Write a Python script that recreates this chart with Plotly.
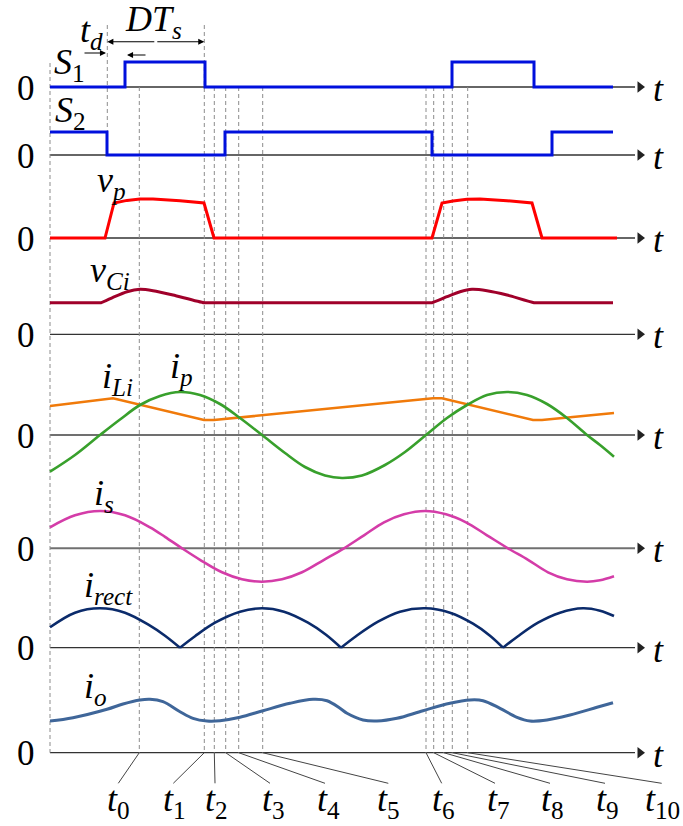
import plotly.graph_objects as go

# ---------------- data (time in drawing units, amplitude in drawing units above each zero line) -------------
# gate signals (step, value held until next switching time)
S1_t = [0, 75, 155, 402, 484, 563]
S1_v = [0, 25, 0, 25, 0, 0]
S2_t = [0, 57, 175, 382, 502, 563]
S2_v = [23, 0, 23, 0, 23, 23]

# primary voltage v_p
vp_t = [0, 55, 64, 77, 90, 103, 130, 154, 164, 382, 392, 403, 417, 430, 457, 482, 492, 567]
vp_v = [0, 0, 35, 37.6, 39, 39, 37.3, 35, 0, 0, 35, 37, 38.7, 39, 37.3, 35, 0, 0]

# clamp capacitor voltage v_Ci
vCi_t = [0, 45, 51, 63, 77, 90, 103, 123, 154, 160, 376, 382, 397, 410, 422, 437, 457, 484, 490, 563]
vCi_v = [31.6, 31.6, 31.6, 37, 42.6, 45, 43.6, 39.3, 31.6, 31.6, 31.6, 31.6, 37.6, 42.6, 45, 43.6, 39.3, 31.6, 31.6, 31.6]

# input inductor current i_Li
iLi_t = [0, 58, 63, 154, 164, 383, 392, 483, 492, 564]
iLi_v = [29, 36.7, 36.7, 15, 15, 36.7, 36.7, 15, 15, 22]

# primary current i_p
ip_t = [0, 25, 50, 70, 90, 110, 130, 150, 170, 190, 212, 235, 255, 275, 292, 312, 335, 355, 376, 397, 417,
        437, 457, 477, 497, 517, 537, 550, 564]
ip_v = [-36.7, -20, 0, 15.5, 30, 39, 43, 40, 31, 17, 0, -18, -32, -40.5, -43, -40.5, -30, -17, 0, 17, 30,
        40, 43, 40, 31, 17, 0, -10, -21.7]

# secondary current i_s
is_t = [0, 25, 50, 75, 100, 115, 132, 150, 172, 192, 212, 232, 252, 274, 294, 314, 334, 354, 375, 396, 416,
        437, 458, 478, 498, 517, 537, 550, 564]
is_v = [21, 33, 37.3, 33, 21, 11.5, 0, -11.5, -24, -31, -33.4, -31, -24, -11.5, 0, 13, 26, 34, 37.3, 34, 26,
        13, 0, -11.5, -24, -31, -33.4, -32, -28]

# rectified current i_rect
irect_t = [0, 25, 50, 75, 100, 115, 130, 145, 165, 190, 212, 234, 258, 276, 291, 306, 328, 350, 375, 400, 423,
           440, 453, 468, 488, 510, 533, 550, 564]
irect_v = [20.4, 35, 39.4, 35, 22, 12, 0, 11.5, 25, 36, 39.4, 36, 25, 13, 0, 11.5, 26, 36, 39.4, 35, 24,
           12, 0, 11.5, 25, 35, 39.4, 37, 31.7]

# output current i_o
io_t = [0, 23, 57, 73, 90, 100, 113, 130, 143, 157, 170, 190, 213, 240, 263, 277, 290, 297, 313, 327, 347, 373,
        400, 420, 433, 450, 467, 480, 497, 520, 547, 563]
io_v = [31.7, 35, 43.4, 48.7, 52.7, 53.4, 51, 41, 34.4, 31.7, 32, 35.4, 42, 49.4, 53.4, 52, 44.4, 39.4, 32.7,
        31.7, 34.4, 42, 49.4, 52.7, 52, 44.4, 35.4, 31.7, 32.7, 37.7, 45.4, 50]

# switching instants t0..t10 and their subscripts
inst_t = [89.3, 154.3, 164.3, 175.7, 188.7, 212.7, 376, 383.7, 393.7, 402.3, 417.7]
inst_sub = ["0", "1", "2", "3", "4", "5", "6", "7", "8", "9", "10"]

# ---------------- layout ----------------
SERIF = "Liberation Serif"
X0 = 50  # pixel position of t = 0
base = {"S1": 87, "S2": 155, "vp": 238, "vCi": 334.3, "ip": 435, "is": 548.3, "irect": 647.7, "io": 752.7}

fig = go.Figure()


def add(t, v, key, color, width, shape="linear", smoothing=1.0):
    y = [base[key] - a for a in v]
    line = dict(color=color, width=width, shape=shape)
    if shape == "spline":
        line["smoothing"] = smoothing
    fig.add_trace(go.Scatter(x=t, y=y, mode="lines", line=line, hoverinfo="skip", showlegend=False))


add(S1_t, S1_v, "S1", "#0010dd", 3, "hv")
add(S2_t, S2_v, "S2", "#0010dd", 3, "hv")
add(vp_t, vp_v, "vp", "#ff0000", 3)
add(vCi_t, vCi_v, "vCi", "#a0002a", 3, "spline", 0.6)
add(iLi_t, iLi_v, "ip", "#f07a0a", 2.6)
add(ip_t, ip_v, "ip", "#38a02c", 2.6, "spline", 1.0)
add(is_t, is_v, "is", "#d43ca8", 2.6, "spline", 1.0)
# rectified current: one smooth arch between consecutive zeros
seg_t, seg_v = [], []
for tt, vv in zip(irect_t, irect_v):
    seg_t.append(tt)
    seg_v.append(vv)
    if vv == 0 and len(seg_t) > 1:
        add(seg_t, seg_v, "irect", "#0b2b6b", 2.6, "spline", 1.0)
        seg_t, seg_v = [tt], [vv]
add(seg_t, seg_v, "irect", "#0b2b6b", 2.6, "spline", 1.0)
add(io_t, io_v, "io", "#3f6699", 3, "spline", 1.0)

shapes = []
# zero lines (time axes)
axis_end = 585
for key in base:
    col = "#707070" if key in ("ip", "is") else "#333333"
    w = 2 if key in ("ip", "is") else 1.3
    shapes.append(dict(type="line", x0=0, x1=axis_end, y0=base[key], y1=base[key],
                       line=dict(color=col, width=w), layer="below"))
fig.add_trace(go.Scatter(x=[590] * len(base), y=list(base.values()), mode="markers",
                         marker=dict(symbol="triangle-right", size=10, color="#222222"),
                         hoverinfo="skip", showlegend=False))

# dashed guide lines
dash_style = dict(color="#8c8c8c", width=1, dash="4px,3px")
guides = [(0, 63, base["io"]), (57.3, 25, base["S2"]), (154.3, 25, base["io"])]
for tt in inst_t:
    if tt != 154.3:
        guides.append((tt, base["S1"], base["io"]))
for tt, ya, yb in guides:
    shapes.append(dict(type="line", x0=tt, x1=tt, y0=ya, y1=yb, line=dash_style, layer="below"))

# leader lines for t0..t10
lbl_px = [118, 174, 216, 273, 328, 388, 443, 498, 552, 607, 662]
end_px = [118.3, 173.3, 215, 270, 325, 388.3, 441.7, 495, 550, 605, 661.7]
ann = []
for tt, lx, ex, sub in zip(inst_t, lbl_px, end_px, inst_sub):
    shapes.append(dict(type="line", x0=tt, x1=ex - X0, y0=base["io"], y1=783.3,
                       line=dict(color="#444444", width=1)))
    ann.append(dict(x=lx - X0, y=801, text="<i>t</i><sub>" + sub + "</sub>", showarrow=False,
                    font=dict(family=SERIF, size=36, color="black"), xanchor="center", yanchor="middle"))

# "0" and "t" labels
for key in base:
    ann.append(dict(x=26 - X0, y=base[key] + 1, text="0", showarrow=False,
                    font=dict(family=SERIF, size=35, color="black"), xanchor="center", yanchor="middle"))
    ann.append(dict(x=658 - X0, y=base[key] + 2, text="<i>t</i>", showarrow=False,
                    font=dict(family=SERIF, size=36, color="black"), xanchor="center", yanchor="middle"))

# signal names
names = [
    ("<i>S</i><sub>1</sub>", 69, 64),
    ("<i>S</i><sub>2</sub>", 70, 112),
    ("<i>t<sub>d</sub></i>", 91, 32),
    ("<i>DT<sub>s</sub></i>", 153, 21),
    ("<i>v<sub>p</sub></i>", 111, 182),
    ("<i>v<sub>Ci</sub></i>", 110, 272),
    ("<i>i<sub>Li</sub></i>", 117, 378),
    ("<i>i<sub>p</sub></i>", 181, 368),
    ("<i>i<sub>s</sub></i>", 104, 495),
    ("<i>i<sub>rect</sub></i>", 108, 587),
    ("<i>i<sub>o</sub></i>", 95, 688),
]
for txt, px, py in names:
    ann.append(dict(x=px - X0, y=py, text=txt, showarrow=False,
                    font=dict(family=SERIF, size=36, color="black"), xanchor="center", yanchor="middle"))

# dimension arrows
arrow_style = dict(showarrow=True, text="", axref="x", ayref="y", arrowhead=2, arrowsize=1.1,
                   arrowwidth=1.1, arrowcolor="black", standoff=0, startstandoff=0)
mid = (57.3 + 154.3) / 2
ann.append(dict(x=154.3, y=41.7, ax=mid, ay=41.7, **arrow_style))
ann.append(dict(x=57.3, y=41.7, ax=mid, ay=41.7, **arrow_style))
ann.append(dict(x=106 - X0, y=53, ax=83 - X0, ay=53, **arrow_style))
ann.append(dict(x=127 - X0, y=55, ax=147 - X0, ay=55, **arrow_style))

fig.update_layout(
    width=683, height=826, autosize=False,
    margin=dict(l=0, r=0, t=0, b=0),
    paper_bgcolor="white", plot_bgcolor="white",
    xaxis=dict(range=[-X0, 683 - X0], visible=False, fixedrange=True),
    yaxis=dict(range=[826, 0], visible=False, fixedrange=True),
    shapes=shapes, annotations=ann, showlegend=False,
)
fig.write_html("out.html")
